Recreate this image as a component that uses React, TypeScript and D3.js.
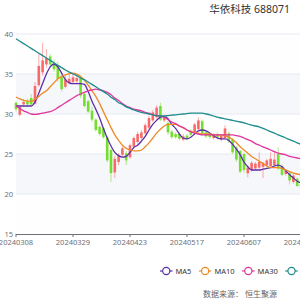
import { useEffect, useRef } from "react";
import * as d3 from "d3";

// trading days shown on the category axis
const dates = [
  "20240308", "20240311", "20240312", "20240313", "20240314", "20240315",
  "20240318", "20240319", "20240320", "20240321", "20240322",
  "20240325", "20240326", "20240327", "20240328", "20240329",
  "20240401", "20240402", "20240403", "20240408", "20240409", "20240410", "20240411", "20240412",
  "20240415", "20240416", "20240417", "20240418", "20240419",
  "20240422", "20240423", "20240424", "20240425", "20240426", "20240429", "20240430",
  "20240506", "20240507", "20240508", "20240509", "20240510",
  "20240513", "20240514", "20240515", "20240516", "20240517",
  "20240520", "20240521", "20240522", "20240523", "20240524",
  "20240527", "20240528", "20240529", "20240530", "20240531",
  "20240603", "20240604", "20240605", "20240606", "20240607",
  "20240611", "20240612", "20240613", "20240614",
  "20240617", "20240618", "20240619", "20240620", "20240621",
  "20240624", "20240625", "20240626", "20240627", "20240628",
  "20240701",
];

const openPrices = [
  31.4, 29.9, 31.2, 31.6, 32.0, 31.3, 33.6, 35.2, 36.2, 37.2,
  36.3, 36.0, 34.6, 33.4, 33.9, 34.0, 34.1, 34.5, 32.5, 31.6,
  30.4, 29.3, 28.4, 28.2, 27.1, 25.5, 22.7, 24.0, 24.9, 25.1,
  24.6, 25.9, 26.5, 27.0, 27.6, 28.3, 29.2, 29.6, 31.0, 29.2,
  28.9, 27.8, 27.5, 27.5, 26.8, 27.3, 27.9, 27.7, 28.1, 29.1,
  27.7, 27.5, 27.0, 27.5, 26.8, 27.0, 27.6, 26.8, 25.8, 25.4,
  25.0, 22.6, 23.0, 23.2, 23.3, 23.4, 23.6, 23.5, 23.6, 25.0,
  23.5, 22.5, 22.6, 21.5, 21.9, 21.2,
];
const closePrices = [
  30.6, 30.9, 31.5, 31.2, 31.2, 33.5, 36.0, 36.7, 37.0, 36.2,
  35.6, 34.4, 33.1, 34.3, 34.4, 34.6, 34.5, 32.3, 31.0, 30.3,
  29.3, 28.0, 27.5, 27.1, 24.2, 22.6, 24.4, 24.8, 25.7, 24.2,
  26.1, 27.0, 27.5, 27.7, 28.6, 29.5, 30.2, 30.8, 29.3, 29.6,
  27.7, 27.1, 27.1, 26.9, 27.2, 26.9, 27.4, 28.7, 29.2, 27.6,
  27.2, 27.1, 27.4, 27.0, 27.3, 28.2, 26.6, 25.2, 24.3, 22.8,
  23.0, 23.3, 23.9, 23.8, 24.0, 23.9, 24.2, 24.4, 24.3, 23.2,
  22.4, 22.9, 21.7, 22.3, 21.0, 20.8,
];
const lowPrices = [
  30.3, 29.7, 31.0, 30.9, 30.9, 31.2, 33.4, 34.8, 35.8, 35.9,
  35.3, 34.0, 32.8, 33.2, 33.7, 33.8, 33.9, 32.0, 30.8, 30.1,
  29.0, 27.8, 27.3, 26.9, 24.0, 21.5, 22.0, 23.6, 24.6, 23.6,
  24.4, 25.7, 26.3, 26.8, 27.4, 28.1, 29.0, 29.4, 29.1, 29.0,
  27.4, 26.9, 26.9, 26.7, 26.6, 26.7, 27.2, 27.5, 27.9, 27.4,
  27.0, 26.9, 26.8, 26.8, 26.6, 26.9, 26.4, 25.0, 24.0, 22.6,
  22.7, 22.1, 22.8, 23.0, 23.1, 22.0, 23.4, 23.3, 23.4, 23.0,
  22.2, 22.3, 21.2, 21.3, 20.9, 20.5,
];
const highPrices = [
  31.6, 31.1, 31.9, 31.9, 32.5, 34.0, 37.5, 38.9, 38.1, 37.5,
  36.8, 36.6, 34.9, 34.8, 35.0, 35.0, 34.9, 34.8, 32.7, 31.8,
  30.9, 29.5, 28.6, 28.4, 27.3, 25.7, 24.8, 25.1, 25.9, 25.4,
  26.3, 27.2, 27.8, 28.0, 28.9, 29.8, 30.5, 31.1, 31.4, 29.9,
  29.1, 28.0, 27.7, 27.7, 27.5, 27.5, 28.1, 28.9, 29.6, 29.3,
  27.9, 27.7, 27.6, 27.7, 27.5, 28.6, 27.8, 27.0, 26.0, 25.5,
  25.2, 23.5, 24.1, 24.0, 25.2, 24.0, 24.4, 25.2, 25.3, 25.8,
  23.7, 23.1, 22.8, 22.6, 22.1, 21.6,
];

const ma5 = [
  31.0, 31.0, 31.0, 31.0, 31.0, 31.5, 32.6, 33.8, 35.0, 35.9,
  36.25, 35.9, 35.1, 34.3, 33.9, 33.8, 33.8, 33.8, 33.7, 32.8,
  31.6, 30.6, 29.5, 28.2, 27.0, 26.0, 25.2, 24.8, 24.6, 24.7,
  25.2, 25.8, 26.1, 26.6, 27.2, 28.0, 28.7, 29.2, 29.6, 29.7,
  29.4, 28.7, 28.2, 27.5, 27.0, 26.9, 27.1, 27.5, 27.9, 28.0,
  27.9, 27.6, 27.3, 27.0, 26.9, 26.9, 26.7, 26.2, 25.6, 24.9,
  24.0, 23.4, 23.0, 23.0, 23.0, 23.1, 23.2, 23.3, 23.5, 23.6,
  23.4, 22.9, 22.4, 22.0, 21.6, 21.4,
];
const ma10 = [
  32.1, 31.9, 31.7, 31.6, 31.6, 31.8, 32.2, 32.6, 32.9, 33.4,
  33.9, 34.4, 34.7, 34.9, 35.05, 35.1, 35.0, 34.7, 34.2, 33.6,
  32.9, 32.2, 31.3, 30.3, 29.3, 28.3, 27.4, 26.7, 26.1, 25.7,
  25.5, 25.4, 25.4, 25.5, 25.9, 26.4, 27.0, 27.6, 28.1, 28.5,
  28.7, 28.7, 28.7, 28.5, 28.3, 28.0, 27.8, 27.7, 27.6, 27.5,
  27.5, 27.5, 27.4, 27.4, 27.4, 27.3, 27.1, 26.8, 26.4, 25.9,
  25.5, 25.1, 24.7, 24.4, 24.1, 23.8, 23.5, 23.3, 23.3, 23.3,
  23.2, 23.0, 22.8, 22.6, 22.5, 22.4,
];
const ma30 = [
  31.0, 30.7, 30.4, 30.2, 30.0, 29.95, 30.0, 30.1, 30.2, 30.3,
  30.5, 30.8, 31.1, 31.4, 31.7, 32.0, 32.3, 32.5, 32.7, 32.9,
  33.0, 33.1, 33.0, 32.9, 32.7, 32.4, 32.0, 31.7, 31.3, 31.0,
  30.8, 30.6, 30.5, 30.4, 30.2, 30.1, 29.9, 29.8, 29.75, 29.6,
  29.3, 29.0, 28.8, 28.5, 28.3, 28.0, 27.8, 27.6, 27.5, 27.4,
  27.4, 27.4, 27.4, 27.4, 27.4, 27.4, 27.4, 27.4, 27.3, 27.2,
  27.0, 26.8, 26.6, 26.3, 26.1, 25.9, 25.7, 25.5, 25.3, 25.1,
  25.0, 24.9, 24.7, 24.6, 24.5, 24.4,
];
const ma60 = [
  39.4, 39.1, 38.8, 38.5, 38.2, 37.9, 37.6, 37.3, 37.0, 36.7,
  36.4, 36.1, 35.8, 35.5, 35.25, 35.0, 34.8, 34.5, 34.3, 34.0,
  33.7, 33.4, 33.1, 32.8, 32.5, 32.1, 31.8, 31.4, 31.2, 30.9,
  30.7, 30.5, 30.35, 30.2, 30.1, 30.0, 29.9, 29.8, 29.75, 29.75,
  29.8, 29.85, 29.9, 29.95, 30.0, 30.05, 30.1, 30.1, 30.1, 30.1,
  30.0, 29.9, 29.75, 29.6, 29.5, 29.4, 29.3, 29.2, 29.1, 29.0,
  28.9, 28.75, 28.6, 28.5, 28.4, 28.2, 28.0, 27.8, 27.6, 27.4,
  27.2, 27.0, 26.8, 26.6, 26.4, 26.2,
];

const yTicks = [15, 20, 25, 30, 35, 40];
const maNames = ["MA5", "MA10", "MA30", "MA60"];
const maColors = ["#5b2ea6", "#ee8a26", "#e0359e", "#1f8c8c"];

const upColor = "#f86a6a";
const downColor = "#74de30";
const labelFont = "'Noto Sans', 'Noto Sans CJK SC', sans-serif";

export default function App() {
  const ref = useRef<SVGSVGElement | null>(null);

  useEffect(() => {
    const svg = d3.select(ref.current);
    svg.selectAll("*").remove();

    const left = 16;
    const top = 34;
    const bottom = 234;
    const step = 3.8;

    const x = d3
      .scalePoint<string>()
      .domain(dates)
      .range([left, left + step * (dates.length - 1)]);
    const y = d3.scaleLinear().domain([15, 40]).range([bottom, top]);

    // alternating split areas
    const bands = svg.append("g");
    yTicks.slice(0, -1).forEach((t, i) => {
      bands
        .append("rect")
        .attr("x", left)
        .attr("width", 300 - left)
        .attr("y", y(t + 5))
        .attr("height", y(t) - y(t + 5))
        .attr("fill", i % 2 === 0 ? "#fefefe" : "#f6f7fb");
    });

    // split lines
    svg
      .append("g")
      .selectAll("line")
      .data(yTicks.slice(1))
      .join("line")
      .attr("x1", left)
      .attr("x2", 300)
      .attr("y1", (d) => y(d))
      .attr("y2", (d) => y(d))
      .attr("stroke", "#e6eaf3")
      .attr("stroke-width", 1);

    // y labels
    svg
      .append("g")
      .selectAll("text")
      .data(yTicks)
      .join("text")
      .attr("x", 13)
      .attr("y", (d) => y(d))
      .attr("dy", "0.35em")
      .attr("text-anchor", "end")
      .attr("font-size", 7.5)
      .attr("font-family", labelFont)
      .attr("fill", "#6e7079")
      .text((d) => d);

    // x axis
    const xa = svg.append("g");
    xa.append("line")
      .attr("x1", left)
      .attr("x2", 300)
      .attr("y1", bottom + 0.5)
      .attr("y2", bottom + 0.5)
      .attr("stroke", "#6e7079");
    const tickDates = dates.filter((_, i) => i % 15 === 0);
    xa.selectAll("line.tick")
      .data(tickDates)
      .join("line")
      .attr("class", "tick")
      .attr("x1", (d) => x(d)!)
      .attr("x2", (d) => x(d)!)
      .attr("y1", bottom)
      .attr("y2", bottom + 3)
      .attr("stroke", "#6e7079");
    xa.selectAll("text")
      .data(tickDates)
      .join("text")
      .attr("x", (d) => x(d)!)
      .attr("y", bottom + 11)
      .attr("text-anchor", "middle")
      .attr("font-size", 7.5)
      .attr("font-family", labelFont)
      .attr("fill", "#6e7079")
      .text((d) => d);

    // candles
    const candles = svg.append("g");
    dates.forEach((d, i) => {
      const o = openPrices[i];
      const c = closePrices[i];
      const col = c >= o ? upColor : downColor;
      const cx = x(d)!;
      candles
        .append("line")
        .attr("x1", cx)
        .attr("x2", cx)
        .attr("y1", y(highPrices[i]))
        .attr("y2", y(lowPrices[i]))
        .attr("stroke", col)
        .attr("stroke-opacity", 0.7)
        .attr("stroke-width", 0.8);
      const y0 = y(Math.max(o, c));
      const h = Math.max(1, Math.abs(y(o) - y(c)));
      candles
        .append("rect")
        .attr("x", cx - 1.3)
        .attr("width", 2.6)
        .attr("y", y0)
        .attr("height", h)
        .attr("fill", col);
    });

    // moving averages
    const line = d3
      .line<number>()
      .x((_, i) => x(dates[i])!)
      .y((v) => y(v))
      .curve(d3.curveMonotoneX);
    [ma5, ma10, ma30, ma60].forEach((s, k) => {
      svg
        .append("path")
        .attr("d", line(s))
        .attr("fill", "none")
        .attr("stroke", maColors[k])
        .attr("stroke-width", 1.3);
    });

    // title
    svg
      .append("text")
      .attr("x", 290)
      .attr("y", 13)
      .attr("text-anchor", "end")
      .attr("font-size", 10.5)
      .attr("font-family", labelFont)
      .attr("fill", "#333")
      .text("华依科技 688071");

    // legend
    const lg = svg.append("g");
    let lx = 160;
    const ly = 271;
    maNames.forEach((name, k) => {
      lg.append("line")
        .attr("x1", lx)
        .attr("x2", lx + 12.5)
        .attr("y1", ly)
        .attr("y2", ly)
        .attr("stroke", maColors[k])
        .attr("stroke-width", 1.2);
      lg.append("circle")
        .attr("cx", lx + 6.25)
        .attr("cy", ly)
        .attr("r", 3.6)
        .attr("fill", "#fff")
        .attr("stroke", maColors[k])
        .attr("stroke-width", 1.2);
      const t = lg
        .append("text")
        .attr("x", lx + 15.5)
        .attr("y", ly)
        .attr("dy", "0.35em")
        .attr("font-size", 7.5)
        .attr("font-family", labelFont)
        .attr("fill", "#333")
        .text(name);
      const w = (t.node() as SVGTextElement).getComputedTextLength();
      lx += 15.5 + w + 7.5;
    });

    // source note
    svg
      .append("text")
      .attr("x", 203)
      .attr("y", 294)
      .attr("dy", "0.35em")
      .attr("font-size", 8)
      .attr("font-family", labelFont)
      .attr("fill", "#666")
      .text("数据来源： 恒生聚源");
  }, []);

  return (
    <svg
      ref={ref}
      width={300}
      height={300}
      style={{ position: "absolute", left: 0, top: 0, background: "#fff" }}
    />
  );
}
